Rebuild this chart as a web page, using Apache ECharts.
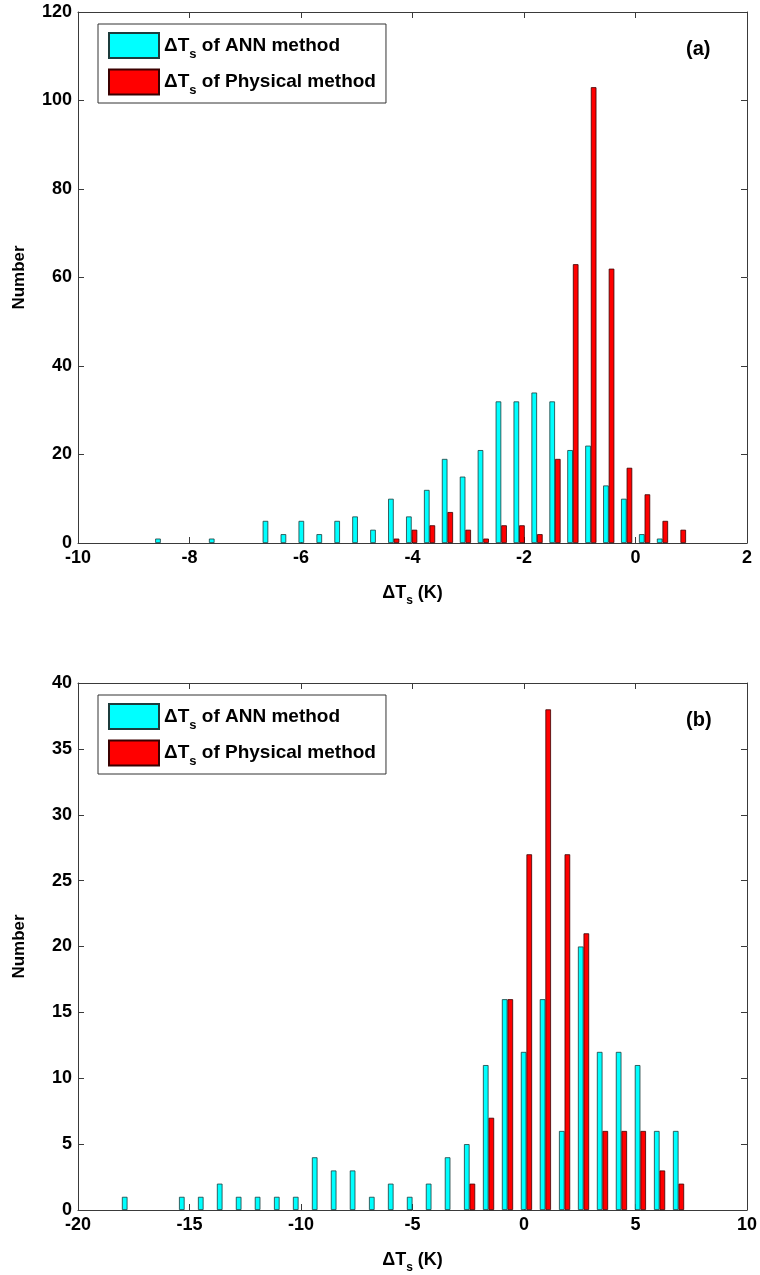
<!DOCTYPE html>
<html>
<head>
<meta charset="utf-8">
<script src="https://cdn.jsdelivr.net/npm/echarts@6/dist/echarts.min.js"></script>
<style>
html,body{margin:0;padding:0;background:#fff;}
#c{width:760px;height:1275px;}
</style>
</head>
<body>
<div id="c"></div>
<script>
// ---- Panel (a) ----
const binsA = [-8.515,-8.194,-7.872,-7.551,-7.229,-6.908,-6.587,-6.265,-5.944,-5.622,
  -5.301,-4.980,-4.658,-4.337,-4.015,-3.694,-3.373,-3.051,-2.730,-2.408,
  -2.087,-1.766,-1.444,-1.123,-0.801,-0.480,-0.159,0.163,0.484,0.806];
const annA  = [1,0,0,1,0,0,5,2,5,2,5,6,3,10,6,12,19,15,21,32,32,34,32,21,22,13,10,2,1,0];
const physA = [0,0,0,0,0,0,0,0,0,0,0,0,0,1,3,4,7,3,1,4,4,2,19,63,103,62,17,11,5,3];

// ---- Panel (b) ----
const binsB = [-17.78,-16.93,-16.08,-15.22,-14.37,-13.52,-12.67,-11.82,-10.96,-10.11,
  -9.26,-8.41,-7.56,-6.70,-5.85,-5.00,-4.15,-3.30,-2.44,-1.59,
  -0.74,0.11,0.96,1.82,2.67,3.52,4.37,5.22,6.08,6.93];
const annB  = [1,0,0,1,1,2,1,1,1,1,4,3,3,1,2,1,2,4,5,11,16,12,16,6,20,12,12,11,6,6];
const physB = [0,0,0,0,0,0,0,0,0,0,0,0,0,0,0,0,0,0,2,7,16,27,38,27,21,6,6,6,3,2];

const seriesNames = ['ANN', 'Physical'];
const legendText = {ANN: 'of ANN method', Physical: 'of Physical method'};
const panelLabels = ['(a)', '(b)'];

const FONT = '"Liberation Sans", Arial, Helvetica, sans-serif';
const AX = '#3a3a3a';
const CYAN = '#00ffff', RED = '#ff0000';

// zero-count bins are not drawn (as in the original histogram)
function pairs(b, v){ return b.map((x,i)=>[x, v[i] === 0 ? null : v[i]]); }

const chart = echarts.init(document.getElementById('c'), null, {renderer:'canvas'});

const gridTops = [12, 683];
const gridH = 531;

const richLegend = {
  d: {fontFamily: FONT, fontSize: 19, fontWeight: 'bold', color: '#000'},
  s: {fontFamily: FONT, fontSize: 13, fontWeight: 'bold', color: '#000', padding: [17,0,0,0]}
};
const richAxis = {
  d: {fontFamily: FONT, fontSize: 18, fontWeight: 'bold', color: '#000'},
  s: {fontFamily: FONT, fontSize: 12, fontWeight: 'bold', color: '#000', padding: [16,0,0,0]}
};

function mkX(gi, min, max, interval){
  return [{
    gridIndex: gi, type: 'value', min: min, max: max, interval: interval, position: 'bottom',
    axisLine: {onZero: false, lineStyle: {color: AX, width: 1}},
    axisTick: {inside: true, length: 6, lineStyle: {color: AX}},
    axisLabel: {fontFamily: FONT, fontSize: 18, fontWeight: 'bold', color: '#000', margin: 6},
    splitLine: {show: false},
    name: '{d|ΔT}{s|s}{d| (K)}', nameLocation: 'middle', nameGap: 36,
    nameTextStyle: {rich: richAxis}
  },{
    gridIndex: gi, type: 'value', min: min, max: max, interval: interval, position: 'top',
    axisLine: {onZero: false, lineStyle: {color: AX, width: 1}},
    axisTick: {inside: true, length: 6, lineStyle: {color: AX}},
    axisLabel: {show: false}, splitLine: {show: false}
  }];
}
function mkY(gi, max, interval){
  return [{
    gridIndex: gi, type: 'value', min: 0, max: max, interval: interval, position: 'left',
    axisLine: {show: true, onZero: false, lineStyle: {color: AX, width: 1}},
    axisTick: {show: true, inside: true, length: 6, lineStyle: {color: AX}},
    axisLabel: {fontFamily: FONT, fontSize: 18, fontWeight: 'bold', color: '#000', margin: 6},
    splitLine: {show: false},
    name: 'Number', nameLocation: 'middle', nameGap: 50,
    nameTextStyle: {fontFamily: FONT, fontSize: 17, fontWeight: 'bold', color: '#000'}
  },{
    gridIndex: gi, type: 'value', min: 0, max: max, interval: interval, position: 'right',
    axisLine: {show: true, onZero: false, lineStyle: {color: AX, width: 1}},
    axisTick: {show: true, inside: true, length: 6, lineStyle: {color: AX}},
    axisLabel: {show: false}, splitLine: {show: false}
  }];
}

function barSeries(name, color, border, xi, yi, data){
  return {
    name: name, type: 'bar', xAxisIndex: xi, yAxisIndex: yi,
    data: data, barWidth: 5.6, barGap: '0%',
    itemStyle: {color: color, borderColor: border, borderWidth: 0.8},
    emphasis: {disabled: true}, animation: false
  };
}

function mkLegend(top){
  return {
    orient: 'vertical', left: 98, top: top,
    data: seriesNames, icon: 'rect', itemWidth: 50, itemHeight: 25, itemGap: 8,
    padding: [8, 10, 6, 10], borderColor: '#333', borderWidth: 1, backgroundColor: '#fff',
    selectedMode: false,
    formatter: n => '{d|ΔT}{s|s}{d| ' + legendText[n] + '}',
    textStyle: {rich: richLegend}
  };
}

const option = {
  backgroundColor: '#fff',
  animation: false,
  grid: gridTops.map(t => ({left: 78, width: 669, top: t, height: gridH, containLabel: false})),
  xAxis: [...mkX(0, -10, 2, 2), ...mkX(1, -20, 10, 5)],
  yAxis: [...mkY(0, 120, 20), ...mkY(1, 40, 5)],
  legend: [mkLegend(24), mkLegend(695)],
  series: [
    barSeries(seriesNames[0], CYAN, '#1c3c3c', 0, 0, pairs(binsA, annA)),
    barSeries(seriesNames[1], RED, '#3a0000', 0, 0, pairs(binsA, physA)),
    barSeries(seriesNames[0], CYAN, '#1c3c3c', 2, 2, pairs(binsB, annB)),
    barSeries(seriesNames[1], RED, '#3a0000', 2, 2, pairs(binsB, physB))
  ],
  graphic: panelLabels.map((t, i) => ({
    type: 'text', left: 686, top: gridTops[i] + 27,
    style: {text: t, fontFamily: FONT, fontSize: 20, fontWeight: 'bold', fill: '#000'}
  }))
};
chart.setOption(option);
</script>
</body>
</html>
